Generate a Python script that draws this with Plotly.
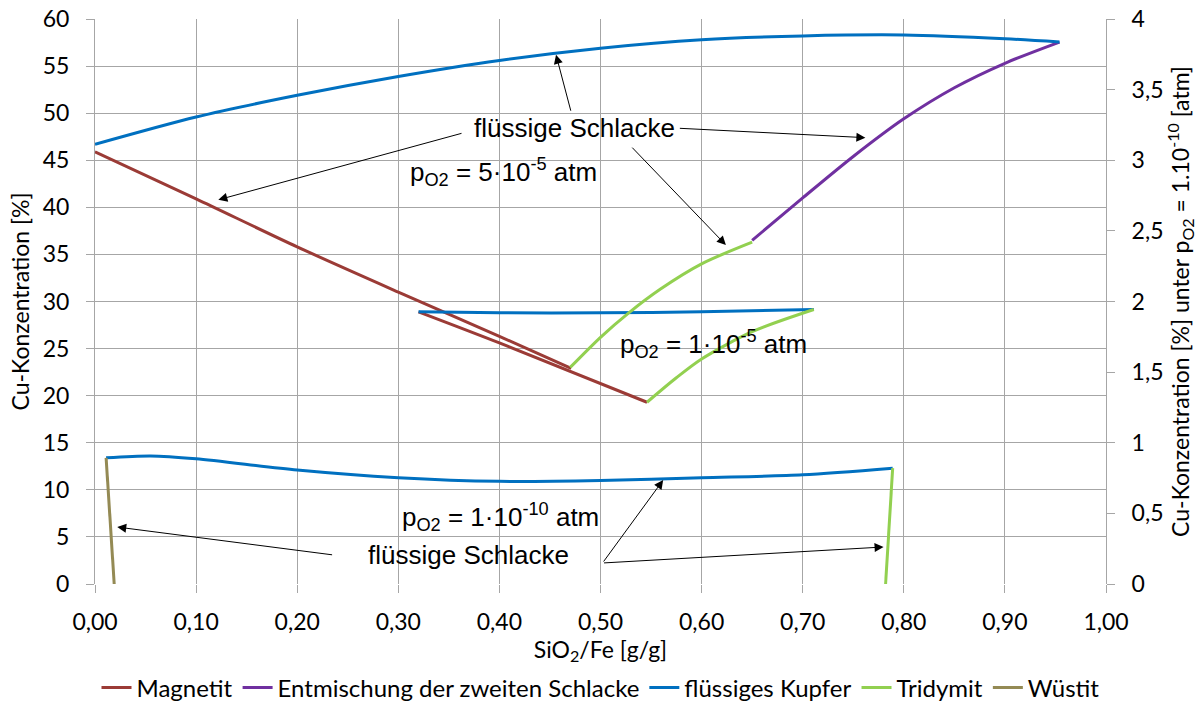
import plotly.graph_objects as go

# ---------------- data ----------------
# p_O2 = 5e-5 atm, left axis [%]
kupfer_hi_x = [0.0, 0.1, 0.2, 0.3, 0.4, 0.5, 0.6, 0.7, 0.8, 0.9, 0.954]
kupfer_hi_y = [46.7, 49.6, 51.9, 53.9, 55.6, 56.9, 57.8, 58.2, 58.3, 57.9, 57.55]
magnetit_hi_x = [0.0, 0.1, 0.2, 0.3, 0.4, 0.471]
magnetit_hi_y = [45.9, 40.9, 35.8, 31.0, 26.3, 22.9]
tridymit_hi_x = [0.470, 0.5, 0.528, 0.559, 0.6, 0.650]
tridymit_hi_y = [23.0, 26.2, 28.8, 31.3, 34.0, 36.3]
entmischung_x = [0.650, 0.7, 0.75, 0.8, 0.85, 0.9, 0.954]
entmischung_y = [36.5, 41.0, 45.4, 49.4, 52.7, 55.3, 57.55]

# p_O2 = 1e-5 atm, left axis [%]
kupfer_mid_x = [0.320, 0.4, 0.5, 0.6, 0.711]
kupfer_mid_y = [28.9, 28.8, 28.8, 28.9, 29.15]
magnetit_mid_x = [0.320, 0.4, 0.546]
magnetit_mid_y = [28.9, 25.6, 19.3]
tridymit_mid_x = [0.546, 0.575, 0.6, 0.65, 0.711]
tridymit_mid_y = [19.3, 21.9, 23.9, 26.8, 29.15]

# p_O2 = 1e-10 atm, right axis [%]
kupfer_lo_x = [0.011, 0.055, 0.1, 0.2, 0.3, 0.4, 0.5, 0.6, 0.7, 0.789]
kupfer_lo_y = [0.893, 0.907, 0.887, 0.807, 0.753, 0.727, 0.733, 0.753, 0.773, 0.82]
tridymit_lo_x = [0.789, 0.782]
tridymit_lo_y = [0.82, 0.0]
wuestit_lo_x = [0.011, 0.019]
wuestit_lo_y = [0.893, 0.0]

x_ticks = [round(i * 0.1, 1) for i in range(11)]
y_ticks = list(range(0, 61, 5))
y2_ticks = [i * 0.5 for i in range(9)]

# ---------------- style ----------------
C_MAG = "#9B3B36"
C_ENT = "#7030A0"
C_KUP = "#0070C0"
C_TRI = "#92D050"
C_WUE = "#948A54"
GRID = "#A6A6A6"
LW = 3
TICKFONT = dict(family="Lato", size=23, color="#000000")
LEGFONT = dict(family="Lato", size=24, color="#000000")
ANNFONT = dict(family="Liberation Sans", size=26, color="#000000")

fig = go.Figure()

def add(x, y, color, name, show, yaxis="y"):
    fig.add_trace(go.Scatter(x=x, y=y, mode="lines", name=name,
                             line=dict(color=color, width=LW, shape="spline", smoothing=0.8),
                             showlegend=show, yaxis=yaxis, hoverinfo="x+y"))

add(magnetit_hi_x, magnetit_hi_y, C_MAG, "Magnetit", True)
add(magnetit_mid_x, magnetit_mid_y, C_MAG, "Magnetit", False)
add(entmischung_x, entmischung_y, C_ENT, "Entmischung der zweiten Schlacke", True)
add(kupfer_hi_x, kupfer_hi_y, C_KUP, "flüssiges Kupfer", True)
add(kupfer_mid_x, kupfer_mid_y, C_KUP, "flüssiges Kupfer", False)
add(kupfer_lo_x, kupfer_lo_y, C_KUP, "flüssiges Kupfer", False, "y2")
add(tridymit_hi_x, tridymit_hi_y, C_TRI, "Tridymit", True)
add(tridymit_mid_x, tridymit_mid_y, C_TRI, "Tridymit", False)
add(tridymit_lo_x, tridymit_lo_y, C_TRI, "Tridymit", False, "y2")
add(wuestit_lo_x, wuestit_lo_y, C_WUE, "Wüstit", True, "y2")

# ---------------- annotations ----------------
texts = [
    ("flüssige Schlacke", 0.474, 48.4, "center"),
    ("p<sub>O2</sub> = 5·10<sup>-5</sup> atm", 0.310, 43.8, "left"),
    ("p<sub>O2</sub> = 1·10<sup>-5</sup> atm", 0.517, 25.5, "left"),
    ("p<sub>O2</sub> = 1·10<sup>-10</sup> atm", 0.302, 7.1, "left"),
    ("flüssige Schlacke", 0.369, 3.1, "center"),
]
for t, x, y, anc in texts:
    fig.add_annotation(text=t, x=x, y=y, xref="x", yref="y", showarrow=False,
                       xanchor=anc, yanchor="middle", font=ANNFONT)

# arrows: (head_x, head_y, tail_x, tail_y)
arrows = [
    (0.456, 56.2, 0.471, 50.1),
    (0.122, 40.8, 0.364, 47.9),
    (0.762, 47.4, 0.577, 48.4),
    (0.624, 36.0, 0.530, 46.5),
    (0.022, 6.05, 0.236, 3.08),
    (0.780, 3.93, 0.502, 2.23),
    (0.562, 11.04, 0.502, 2.23),
]
for hx, hy, tx, ty in arrows:
    fig.add_annotation(text="", x=hx, y=hy, ax=tx, ay=ty, xref="x", yref="y",
                       axref="x", ayref="y", showarrow=True, arrowhead=2,
                       arrowsize=1.8, arrowwidth=1, arrowcolor="#000000",
                       standoff=0, startstandoff=0)

fig.update_layout(
    width=1202, height=711,
    margin=dict(l=95, r=96, t=19, b=127, autoexpand=False),
    paper_bgcolor="white", plot_bgcolor="white",
    separators=",.",
    showlegend=True,
    legend=dict(orientation="h", x=0.5, xanchor="center", yref="container",
                y=1 - 688 / 711, yanchor="middle", font=LEGFONT,
                bgcolor="rgba(0,0,0,0)"),
    xaxis=dict(range=[0, 1], tickvals=x_ticks, tickformat=".2f",
               showgrid=True, gridcolor=GRID, gridwidth=1,
               ticks="outside", ticklen=8, tickcolor=GRID,
               showline=False, zeroline=False, tickfont=TICKFONT,
               ticklabelstandoff=9, automargin=False,
               title=dict(text="SiO<sub>2</sub>/Fe [g/g]", font=TICKFONT, standoff=10)),
    yaxis=dict(range=[0, 60], tickvals=y_ticks,
               showgrid=True, gridcolor=GRID, gridwidth=1,
               ticks="outside", ticklen=8, tickcolor=GRID,
               showline=True, linecolor=GRID, zeroline=False, tickfont=TICKFONT,
               ticklabelstandoff=12, automargin=False,
               title=dict(text="Cu-Konzentration [%]", font=TICKFONT, standoff=6)),
    yaxis2=dict(range=[0, 4], tickvals=y2_ticks, overlaying="y", side="right",
                showgrid=False, ticks="outside", ticklen=8, tickcolor=GRID,
                showline=True, linecolor=GRID, zeroline=False, tickfont=TICKFONT,
                ticklabelstandoff=12, automargin=False,
                title=dict(text="Cu-Konzentration [%] unter p<sub>O2</sub> = 1.10<sup>-10</sup> [atm]",
                           font=TICKFONT, standoff=6)),
)

fig.write_html("out.html")
